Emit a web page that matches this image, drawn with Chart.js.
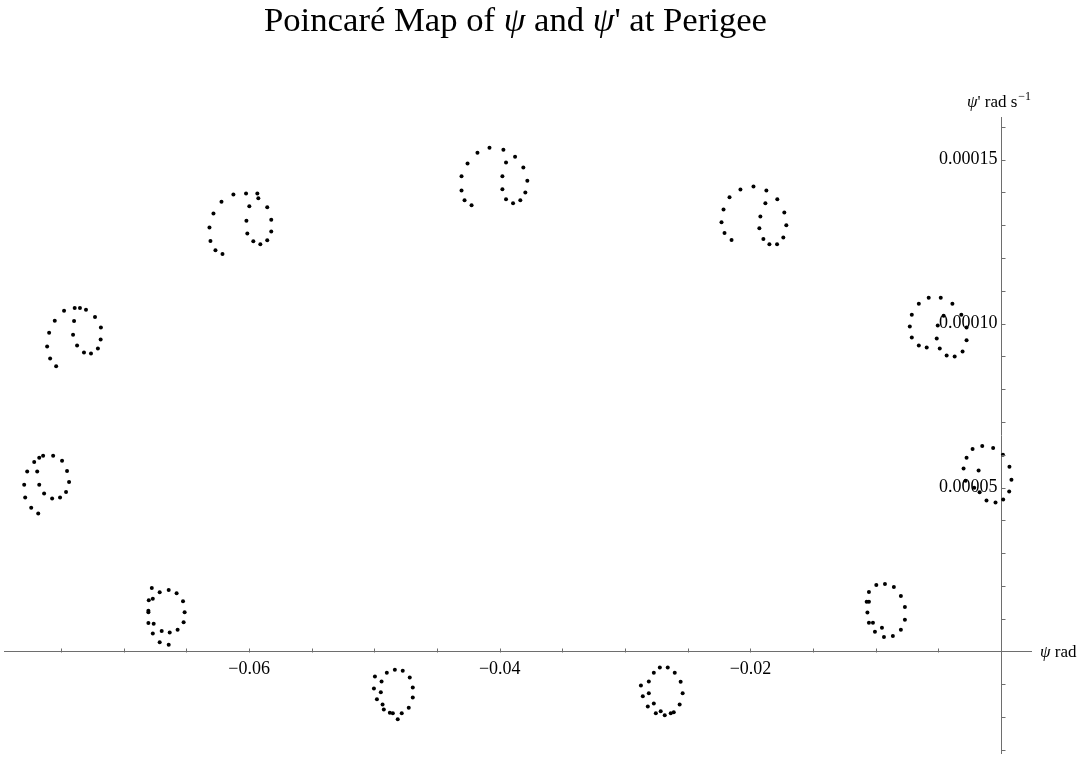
<!DOCTYPE html>
<html>
<head>
<meta charset="utf-8">
<script src="https://cdn.jsdelivr.net/npm/chart.js@4.4.0/dist/chart.umd.min.js"></script>
<style>
  html, body { margin: 0; padding: 0; background: #fff; }
  #wrap { position: relative; width: 1080px; height: 757px; }
  #title {
    position: absolute; left: 0; top: 0; width: 1031px; text-align: center;
    font-family: 'Liberation Serif', 'DejaVu Serif', serif; font-size: 34.7px;
    line-height: 40px; color: #000;
  }
</style>
</head>
<body>
<div id="wrap">
  <canvas id="poincare"></canvas>
  <div id="title">Poincaré Map of <i>ψ</i> and <i>ψ</i>' at Perigee</div>
</div>
<script>
// --- data: psi (rad) and psi' (rad/s) at each perigee pass ---
const psiRad = [
  // island near psi = -0.077
  -0.07643, -0.07563, -0.07492, -0.07452, -0.07436, -0.07460, -0.07508, -0.07571, -0.07635,
  -0.07674, -0.07690, -0.07674, -0.07714, -0.07770, -0.07794, -0.07786, -0.07738, -0.07682,
  // island near psi = -0.074
  -0.07476, -0.07391, -0.07349, -0.07301, -0.07229, -0.07182, -0.07184, -0.07206, -0.07261,
  -0.07317, -0.07372, -0.07404, -0.07396, -0.07550, -0.07595, -0.07611, -0.07587, -0.07539,
  // island near psi = -0.060
  -0.06125, -0.06024, -0.05934, -0.05926, -0.05855, -0.05823, -0.05823, -0.05855, -0.05910, -0.05966,
  -0.06014, -0.06021, -0.05998, -0.06220, -0.06284, -0.06316, -0.06308, -0.06268, -0.06212,
  // island near psi = -0.040
  -0.04178, -0.04082, -0.03971, -0.03878, -0.03812, -0.03780, -0.03796, -0.03836, -0.03894,
  -0.03950, -0.03979, -0.03979, -0.03950, -0.04257, -0.04305, -0.04305, -0.04281, -0.04225,
  // island near psi = -0.020
  -0.02080, -0.01976, -0.01873, -0.01786, -0.01730, -0.01714, -0.01738, -0.01788, -0.01849,
  -0.01897, -0.01929, -0.01921, -0.01881, -0.02167, -0.02215, -0.02231, -0.02207, -0.02151,
  // island near psi = -0.005
  -0.00657, -0.00578, -0.00482, -0.00389, -0.00318, -0.00276, -0.00276, -0.00308, -0.00371, -0.00435,
  -0.00490, -0.00514, -0.00506, -0.00459, -0.00713, -0.00729, -0.00713, -0.00657, -0.00594,
  // island near psi = 0
  -0.00228, -0.00151, -0.00064, 0.00014, 0.00066, 0.00082, 0.00064, 0.00016,
  -0.00045, -0.00117, -0.00172, -0.00215, -0.00284, -0.00300, -0.00276, -0.00180,
  // island near psi = -0.009
  -0.00996, -0.00927, -0.00856, -0.00800, -0.00768, -0.00768, -0.00800, -0.00864, -0.00935,
  -0.00951, -0.01007, -0.01023, -0.01055, -0.01067, -0.01073, -0.01055, -0.01055,
  // island near psi = -0.027
  -0.02771, -0.02723, -0.02660, -0.02604, -0.02557, -0.02541, -0.02565, -0.02612, -0.02636,
  -0.02684, -0.02716, -0.02755, -0.02819, -0.02771, -0.02859, -0.02811, -0.02874, -0.02811,
  // island near psi = -0.048
  -0.04996, -0.04901, -0.04837, -0.04774, -0.04718, -0.04694, -0.04694, -0.04726, -0.04782,
  -0.04853, -0.04877, -0.04814, -0.04925, -0.04935, -0.04980, -0.05004, -0.04949, -0.04943,
  // island near psi = -0.067
  -0.06776, -0.06713, -0.06641, -0.06578, -0.06527, -0.06514, -0.06522, -0.06570, -0.06633, -0.06697,
  -0.06768, -0.06803, -0.06761, -0.06803, -0.06803, -0.06800, -0.06768, -0.06713, -0.06641
];

const psiDotRad = [
  5.97e-5, 5.97e-5, 5.82e-5, 5.51e-5, 5.17e-5, 4.87e-5, 4.70e-5, 4.67e-5, 4.82e-5,
  5.09e-5, 5.49e-5, 5.91e-5, 5.78e-5, 5.49e-5, 5.09e-5, 4.70e-5, 4.39e-5, 4.21e-5,

  10.39e-5, 10.48e-5, 10.48e-5, 10.42e-5, 10.20e-5, 9.88e-5, 9.52e-5, 9.24e-5, 9.09e-5,
  9.12e-5, 9.33e-5, 9.66e-5, 10.08e-5, 10.09e-5, 9.72e-5, 9.30e-5, 8.94e-5, 8.70e-5,

  13.94e-5, 13.97e-5, 13.97e-5, 13.82e-5, 13.55e-5, 13.17e-5, 12.81e-5, 12.54e-5, 12.42e-5, 12.51e-5,
  12.75e-5, 13.14e-5, 13.58e-5, 13.72e-5, 13.36e-5, 12.93e-5, 12.52e-5, 12.24e-5, 12.12e-5,

  15.21e-5, 15.36e-5, 15.30e-5, 15.09e-5, 14.76e-5, 14.36e-5, 14.00e-5, 13.76e-5, 13.67e-5,
  13.79e-5, 14.10e-5, 14.49e-5, 14.91e-5, 14.88e-5, 14.49e-5, 14.06e-5, 13.76e-5, 13.61e-5,

  14.09e-5, 14.18e-5, 14.06e-5, 13.79e-5, 13.39e-5, 13.00e-5, 12.63e-5, 12.42e-5, 12.42e-5,
  12.58e-5, 12.91e-5, 13.27e-5, 13.67e-5, 13.85e-5, 13.48e-5, 13.09e-5, 12.76e-5, 12.55e-5,

  10.61e-5, 10.79e-5, 10.79e-5, 10.61e-5, 10.27e-5, 9.88e-5, 9.49e-5, 9.15e-5, 9.00e-5, 9.03e-5,
  9.24e-5, 9.55e-5, 9.94e-5, 10.24e-5, 10.27e-5, 9.91e-5, 9.58e-5, 9.33e-5, 9.27e-5,

  6.18e-5, 6.27e-5, 6.21e-5, 6.00e-5, 5.64e-5, 5.24e-5, 4.88e-5, 4.64e-5,
  4.55e-5, 4.61e-5, 4.86e-5, 5.00e-5, 5.21e-5, 5.58e-5, 5.91e-5, 5.52e-5,

  2.03e-5, 2.06e-5, 1.97e-5, 1.70e-5, 1.36e-5, 0.97e-5, 0.67e-5, 0.48e-5, 0.45e-5,
  0.73e-5, 0.61e-5, 0.88e-5, 0.88e-5, 1.19e-5, 1.52e-5, 1.52e-5, 1.82e-5,

  -0.64e-5, -0.48e-5, -0.48e-5, -0.64e-5, -0.92e-5, -1.27e-5, -1.61e-5, -1.85e-5, -1.88e-5,
  -1.94e-5, -1.82e-5, -1.88e-5, -1.67e-5, -1.58e-5, -1.36e-5, -1.27e-5, -1.03e-5, -0.91e-5,

  -0.76e-5, -0.64e-5, -0.55e-5, -0.58e-5, -0.79e-5, -1.09e-5, -1.40e-5, -1.71e-5, -1.88e-5,
  -1.88e-5, -1.86e-5, -2.06e-5, -1.76e-5, -1.61e-5, -1.45e-5, -1.12e-5, -1.24e-5, -0.91e-5,

  1.94e-5, 1.81e-5, 1.88e-5, 1.78e-5, 1.54e-5, 1.20e-5, 0.90e-5, 0.67e-5, 0.58e-5, 0.63e-5,
  0.55e-5, 0.87e-5, 0.85e-5, 1.20e-5, 1.25e-5, 1.57e-5, 1.61e-5, 0.29e-5, 0.21e-5
];

// axis ranges and tick steps
const psiRange = [-0.07955, 0.00238];
const psiDotRange = [-3.09e-5, 16.30e-5];
const psiMinorStep = 0.005, psiMajorStep = 0.02;
const psiDotMinorStep = 1e-5, psiDotMajorStep = 5e-5;

const AXIS_COLOR = '#6e6e6e';
const SERIF = "'Liberation Serif', 'DejaVu Serif', serif";

function onStep(v, step) {
  return Math.abs(v / step - Math.round(v / step)) < 1e-6;
}

function noPadding(scale) {
  scale.paddingLeft = scale.paddingRight = scale.paddingTop = scale.paddingBottom = 0;
}

// Mathematica style ticks: x ticks point up, y ticks point right, plus axis names
const axisDecor = {
  id: 'axisDecor',
  afterDraw(chart) {
    const { ctx, scales: { x, y } } = chart;
    const x0 = Math.round(x.getPixelForValue(0)) + 0.5;
    const y0 = Math.round(y.getPixelForValue(0)) + 0.5;
    ctx.save();
    ctx.strokeStyle = AXIS_COLOR;
    ctx.lineWidth = 1;
    ctx.beginPath();
    x.ticks.forEach(t => {
      if (!onStep(t.value, psiMinorStep) || Math.abs(t.value) < 1e-9) return;
      const p = Math.round(x.getPixelForValue(t.value)) + 0.5;
      ctx.moveTo(p, y0);
      ctx.lineTo(p, y0 - 4);
    });
    y.ticks.forEach(t => {
      if (!onStep(t.value, psiDotMinorStep) || Math.abs(t.value) < 1e-12) return;
      const p = Math.round(y.getPixelForValue(t.value)) + 0.5;
      ctx.moveTo(x0, p);
      ctx.lineTo(x0 + 4, p);
    });
    ctx.stroke();

    ctx.fillStyle = '#000';
    const italic = 'italic 17px ' + SERIF, plain = '17px ' + SERIF, small = '12px ' + SERIF;

    // x axis name: "psi rad"
    ctx.textBaseline = 'middle';
    let cx = x.right + 9;
    ctx.font = italic; ctx.fillText('ψ', cx, y0); cx += ctx.measureText('ψ').width;
    ctx.font = plain; ctx.fillText(' rad', cx, y0);

    // y axis name: "psi' rad s^-1"
    ctx.textBaseline = 'alphabetic';
    ctx.font = italic; const w1 = ctx.measureText('ψ').width;
    ctx.font = plain; const w2 = ctx.measureText("' rad s").width;
    ctx.font = small; const w3 = ctx.measureText('\u22121').width;
    const by = y.top - 10;
    cx = x0 - (w1 + w2 + w3) / 2 - 3;
    ctx.font = italic; ctx.fillText('ψ', cx, by); cx += w1;
    ctx.font = plain; ctx.fillText("' rad s", cx, by); cx += w2;
    ctx.font = small; ctx.fillText('\u22121', cx + 1, by - 7);
    ctx.restore();
  }
};

const points = psiRad.map((v, i) => ({ x: v, y: psiDotRad[i] }));

new Chart(document.getElementById('poincare'), {
  type: 'scatter',
  data: {
    datasets: [{
      data: points,
      pointRadius: 2,
      pointBackgroundColor: '#000',
      pointBorderWidth: 0,
      showLine: false
    }]
  },
  options: {
    responsive: true,
    maintainAspectRatio: false,
    animation: false,
    layout: { padding: { top: 117, right: 49, bottom: 0, left: 0 } },
    plugins: { legend: { display: false }, tooltip: { enabled: false } },
    scales: {
      x: {
        type: 'linear',
        position: { y: 0 },
        min: psiRange[0],
        max: psiRange[1],
        afterFit: noPadding,
        grid: { drawOnChartArea: false, drawTicks: false },
        border: { color: AXIS_COLOR, width: 1 },
        ticks: {
          stepSize: psiMinorStep,
          maxTicksLimit: 1000,
          includeBounds: false,
          autoSkip: false,
          maxRotation: 0,
          padding: 7,
          color: '#000',
          font: { family: SERIF, size: 18 },
          callback: v => {
            if (!onStep(v, psiMajorStep) || Math.abs(v) < 1e-9) return '';
            return (v < 0 ? '\u2212' : '') + Math.abs(v).toFixed(2);
          }
        }
      },
      y: {
        type: 'linear',
        position: { x: 0 },
        min: psiDotRange[0],
        max: psiDotRange[1],
        afterFit: noPadding,
        grid: { drawOnChartArea: false, drawTicks: false },
        border: { color: AXIS_COLOR, width: 1 },
        ticks: {
          stepSize: psiDotMinorStep,
          maxTicksLimit: 1000,
          includeBounds: false,
          autoSkip: false,
          padding: 5,
          color: '#000',
          font: { family: SERIF, size: 18 },
          // trailing thin space keeps the label clear of the axis line
          callback: v => {
            if (!onStep(v, psiDotMajorStep) || v <= 0) return '';
            return v.toFixed(5) + '\u2009';
          }
        }
      }
    }
  },
  plugins: [axisDecor]
});
</script>
</body>
</html>
